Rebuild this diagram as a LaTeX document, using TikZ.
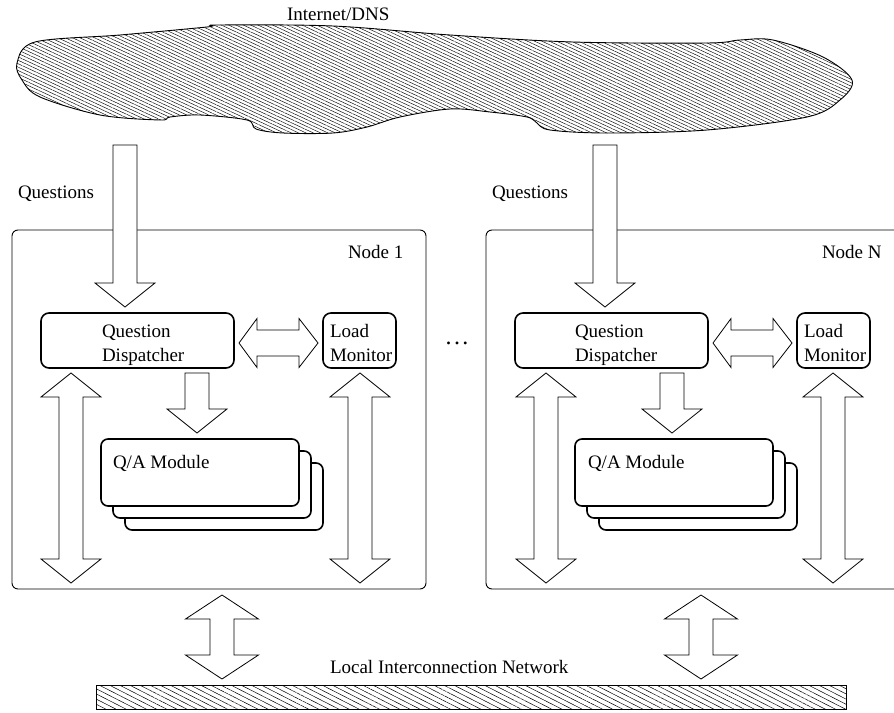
\documentclass[tikz,border=0pt]{standalone}
\usepackage{fontspec}
\setmainfont{Liberation Serif}
\usetikzlibrary{patterns.meta}
\tikzset{
  every node/.style={font=\fontsize{19}{24}\selectfont, inner sep=0pt, outer sep=0pt},
  txt/.style={anchor=base west},
  nodebox/.style={draw, line width=0.9pt, rounded corners=6pt, anchor=north west,
    minimum width=414pt, minimum height=359pt},
  procbox/.style={draw, fill=white, line width=1.6pt, rounded corners=8pt, anchor=north west,
    minimum height=55pt},
  qabox/.style={draw, fill=white, line width=1.6pt, rounded corners=7pt, anchor=north west,
    minimum width=198pt, minimum height=67pt},
  blockarrow/.style={draw, fill=white, line width=0.8pt, line join=miter},
  cloudhatch/.style={draw, line width=0.9pt,
    pattern={Lines[angle=-25, distance=3.1pt, line width=0.45pt]}},
  barhatch/.style={draw, line width=0.9pt,
    pattern={Lines[angle=-27, distance=4.6pt, line width=0.5pt]}},
}
% down arrow: x, top y, head base y, tip y
\newcommand\arrDown[4]{%
  \draw[blockarrow] ({#1-12},#2) -- ({#1+12},#2) -- ({#1+12},#3) -- ({#1+30},#3)
    -- (#1,#4) -- ({#1-30},#3) -- ({#1-12},#3) -- cycle;}
% vertical double arrow: x, top tip, top base, bottom base, bottom tip, half head width
\newcommand\arrUD[6]{%
  \draw[blockarrow] (#1,#2) -- ({#1+#6},#3) -- ({#1+12},#3) -- ({#1+12},#4) -- ({#1+#6},#4)
    -- (#1,#5) -- ({#1-#6},#4) -- ({#1-12},#4) -- ({#1-12},#3) -- ({#1-#6},#3) -- cycle;}
% horizontal double arrow: y, left tip, left base, right base, right tip
\newcommand\arrLR[5]{%
  \draw[blockarrow] (#2,#1) -- (#3,{#1-24.5}) -- (#3,{#1-13}) -- (#4,{#1-13}) -- (#4,{#1-24.5})
    -- (#5,#1) -- (#4,{#1+24.5}) -- (#4,{#1+13}) -- (#3,{#1+13}) -- (#3,{#1+24.5}) -- cycle;}
\begin{document}
\begin{tikzpicture}[x=1pt, y=-1pt]
\useasboundingbox (0,0) rectangle (894,712);
\clip (0,0) rectangle (894,712);

% Internet cloud
\draw[cloudhatch] plot[smooth cycle, tension=0.55] coordinates {
  (17,63) (35,42) (120,35) (207,27) (218,25) (333,26) (450,35) (573,42) (707,43)
  (740,40) (773,40) (823,57) (852,80) (840,100) (807,117) (707,130) (607,133)
  (550,130) (537,123) (527,117) (490,112) (450,109) (400,117) (367,127) (333,133)
  (283,133) (256,129) (247,120) (200,115) (170,117) (160,120) (100,115) (40,97) (22,80)};
\node[txt] (inet) at (287,20) {Internet/DNS};

% Local interconnection network bar
\path[barhatch] (96,685) rectangle (846,709);
\node[txt] (lin) at (330,673) {Local Interconnection Network};

% Node boxes
\node[nodebox] (node1) at (12,230) {};
\node[nodebox] (nodeN) at (486,230) {};
\node[txt] (n1) at (348,258) {Node 1};
\node[txt] (nN) at (822,258) {Node N};

% Q/A module stacks
\node[qabox] (qa1c) at (125,463) {};
\node[qabox] (qa1b) at (113,451) {};
\node[qabox] (qa1)  at (101,439) {};
\node[txt] (qa1t) at (113,468) {Q/A Module};
\node[qabox] (qaNc) at (599,463) {};
\node[qabox] (qaNb) at (587,451) {};
\node[qabox] (qaN)  at (575,439) {};
\node[txt] (qaNt) at (588,468) {Q/A Module};

% Dispatchers and load monitors
\node[procbox, minimum width=193pt] (qd1) at (41,313) {};
\node[procbox, minimum width=73pt] (lm1) at (323,313) {};
\node[procbox, minimum width=193pt] (qdN) at (515,313) {};
\node[procbox, minimum width=73pt] (lmN) at (797,313) {};
\node[txt] (qd1t) at (102,337) {\begin{tabular}[t]{@{}l@{}}Question\\Dispatcher\end{tabular}};
\node[txt] (lm1t) at (330,337) {\begin{tabular}[t]{@{}l@{}}Load\\Monitor\end{tabular}};
\node[txt] (qdNt) at (575,337) {\begin{tabular}[t]{@{}l@{}}Question\\Dispatcher\end{tabular}};
\node[txt] (lmNt) at (804,337) {\begin{tabular}[t]{@{}l@{}}Load\\Monitor\end{tabular}};

\node[anchor=base, font=\fontsize{24}{24}\selectfont] (dots) at (457,344)
  {.\hspace{0.1em}.\hspace{0.1em}.};

% Questions
\node[txt] (q1) at (18,198) {Questions};
\node[txt] (qN) at (492,198) {Questions};
\arrDown{125}{145}{283}{307}
\arrDown{605}{145}{283}{307}

% inside node 1
\arrLR{343}{239}{257}{299}{318}
\arrUD{71}{373}{397}{559}{583}{30}
\arrUD{360}{373}{397}{559}{583}{30}
\arrDown{197}{373}{409}{433}
% inside node N
\arrLR{343}{713}{731}{773}{792}
\arrUD{546}{373}{397}{559}{583}{30}
\arrUD{833}{373}{397}{559}{583}{30}
\arrDown{672}{373}{409}{433}

% to the interconnection network
\arrUD{222}{595}{619}{655}{679}{36.5}
\arrUD{701}{595}{619}{655}{679}{36.5}
\end{tikzpicture}
\end{document}
